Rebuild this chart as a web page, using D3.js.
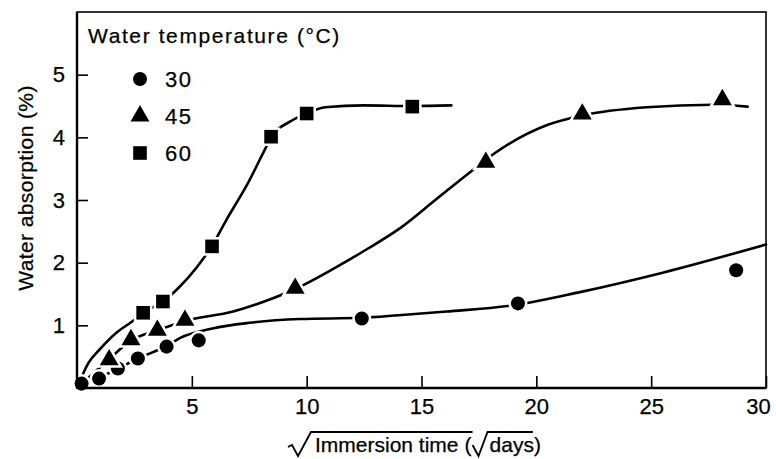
<!DOCTYPE html>
<html><head><meta charset="utf-8">
<script src="https://cdn.jsdelivr.net/npm/d3@7"></script>
<style>
body{margin:0;background:#fff}
text{font-family:"Liberation Sans",Arial,sans-serif;fill:#000;stroke:#000;stroke-width:0.25px;white-space:pre}
</style>
</head><body>
<svg id="c" width="776" height="459"></svg>
<script>
// ---- data ----
const seriesLabels = ["30", "45", "60"];
const legendTitle = "Water temperature (°C)";
const xTicks = [5, 10, 15, 20, 25, 30];
const yTicks = [1, 2, 3, 4, 5];
// measured points (sqrt days, %)
const pts30 = [[0.2,0.07],[0.96,0.15],[1.78,0.31],[2.65,0.47],[3.9,0.66],[5.3,0.76],[12.4,1.11],[19.2,1.35],[28.7,1.88]];
const pts45 = [[1.4,0.45],[2.35,0.77],[3.5,0.92],[4.7,1.08],[9.5,1.59],[17.8,3.6],[22.0,4.37],[28.1,4.6]];
const pts60 = [[2.88,1.2],[3.74,1.38],[5.88,2.26],[8.45,4.01],[10.0,4.38],[14.6,4.49]];
// drawn trend curves
const fit30 = [[0,0],[0.96,0.16],[1.78,0.31],[2.65,0.47],[3.9,0.67],[4.5,0.8],[5.9,0.95],[7.5,1.04],[9.7,1.1],[12.4,1.12],[14,1.16],[16.1,1.22],[19.2,1.33],[21.9,1.53],[25.5,1.84],[30,2.29]];
const fit45 = [[0,0],[1.4,0.46],[2.35,0.76],[3.5,0.92],[4.7,1.07],[6.8,1.22],[8.3,1.4],[9.5,1.58],[11.1,1.89],[12.6,2.21],[14.1,2.56],[15.6,3.0],[17.1,3.44],[18.2,3.75],[20.5,4.2],[22.0,4.35],[24.8,4.48],[27.7,4.52],[29.2,4.49]];
const fit60 = [[0,0],[0.5,0.4],[1.0,0.62],[1.74,0.89],[2.4,1.06],[2.88,1.2],[3.74,1.38],[4.48,1.62],[5.2,1.92],[5.88,2.27],[6.5,2.68],[7.4,3.24],[8.2,3.82],[8.45,4.0],[9.27,4.25],[10.0,4.38],[10.8,4.48],[12.5,4.51],[14.6,4.5],[16.3,4.51]];

const svg = d3.select("#c");
const x = d3.scaleLinear().domain([0, 30]).range([77, 766]);
const y = d3.scaleLinear().domain([0, 6]).range([388, 12]);

// curves
const line = d3.line().x(d => x(d[0])).y(d => y(d[1])).curve(d3.curveMonotoneX);
[fit30, fit45, fit60].forEach(f => {
  svg.append("path").attr("d", line(f)).attr("fill", "none")
    .attr("stroke", "#000").attr("stroke-width", 2.6).attr("stroke-linecap", "round");
});

// markers
const shapes = [d3.symbolCircle, d3.symbolTriangle, d3.symbolSquare];
const sizes = [155, 155, 185];
[pts30, pts45, pts60].forEach((pts, i) => {
  svg.append("g").selectAll("path").data(pts).join("path")
    .attr("d", d3.symbol().type(shapes[i]).size(sizes[i])())
    .attr("transform", d => `translate(${x(d[0])},${y(d[1])})`)
    .attr("fill", "#000").attr("stroke", "#fff").attr("stroke-width", 5)
    .style("paint-order", "stroke");
});

// frame
svg.append("rect").attr("x", x(0)).attr("y", y(6)).attr("width", x(30) - x(0)).attr("height", y(0) - y(6))
  .attr("fill", "none").attr("stroke", "#000").attr("stroke-width", 1.6);
svg.append("line").attr("x1", x(0)).attr("x2", x(0)).attr("y1", y(6)).attr("y2", y(0)).attr("stroke", "#000").attr("stroke-width", 2.4);
svg.append("line").attr("x1", x(0)).attr("x2", x(30)).attr("y1", y(0)).attr("y2", y(0)).attr("stroke", "#000").attr("stroke-width", 2.4);

// axes (ticks inward)
const xAxis = svg.append("g").attr("transform", `translate(0,${y(0)})`)
  .call(d3.axisBottom(x).tickValues(xTicks).tickSize(-12).tickPadding(10).tickFormat(d3.format("d")));
const yAxis = svg.append("g").attr("transform", `translate(${x(0)},0)`)
  .call(d3.axisLeft(y).tickValues(yTicks).tickSize(-11).tickPadding(12).tickFormat(d3.format("d")));
[xAxis, yAxis].forEach(a => {
  a.select(".domain").remove();
  a.selectAll(".tick line").attr("stroke", "#000").attr("stroke-width", 1.6);
  a.selectAll(".tick text").attr("font-size", 22).attr("font-family", "Liberation Sans, Arial, sans-serif").attr("fill", "#000");
});
xAxis.selectAll(".tick text").attr("dy", "0.71em");
xAxis.selectAll(".tick text").filter(d => d === 30).attr("dx", -8);

// y title
svg.append("text").attr("transform", "translate(33,188) rotate(-90)")
  .attr("text-anchor", "middle").attr("font-size", 21).attr("letter-spacing", 0.4)
  .text("Water absorption (%)");

// x title with radicals
const b = 452, fs = 21;
const xg = svg.append("g");
const t1 = xg.append("text").attr("x", 315).attr("y", b).attr("font-size", fs).text("Immersion time");
const w1 = t1.node().getComputedTextLength();
const t2 = xg.append("text").attr("x", 315 + w1 + 6).attr("y", b).attr("font-size", fs).text("(");
const w2 = t2.node().getComputedTextLength() + 6;
const x3 = 315 + w1 + w2 + 18;
const t3 = xg.append("text").attr("x", x3).attr("y", b).attr("font-size", fs).text("days)");
const w3 = t3.node().getComputedTextLength();
function radical(x0, x1) {
  return `M${x0 - 27},${b - 5} L${x0 - 23},${b - 7} L${x0 - 17},${b + 4} L${x0 - 4},${b - 20} L${x1},${b - 20}`;
}
xg.append("path").attr("d", radical(315, 315 + w1 + 14)).attr("fill", "none").attr("stroke", "#000").attr("stroke-width", 1.8);
function radical2(x0, x1) {
  return `M${x0 - 17},${b - 7} L${x0 - 11},${b + 4} L${x0 - 2},${b - 20} L${x1},${b - 20}`;
}
xg.append("path").attr("d", radical2(x3, x3 + w3 - 8)).attr("fill", "none").attr("stroke", "#000").attr("stroke-width", 1.8);

// legend
const lg = svg.append("g");
lg.append("text").attr("x", 88).attr("y", 43).attr("font-size", 21).attr("letter-spacing", 1.6).text(legendTitle);
seriesLabels.forEach((s, i) => {
  const yy = 79 + i * 37;
  lg.append("path").attr("d", d3.symbol().type(shapes[i]).size(sizes[i])())
    .attr("transform", `translate(140,${yy})`).attr("fill", "#000");
  lg.append("text").attr("x", 165).attr("y", yy + 8).attr("font-size", 22).attr("letter-spacing", 1.5).text(s);
});
</script>
</body></html>
